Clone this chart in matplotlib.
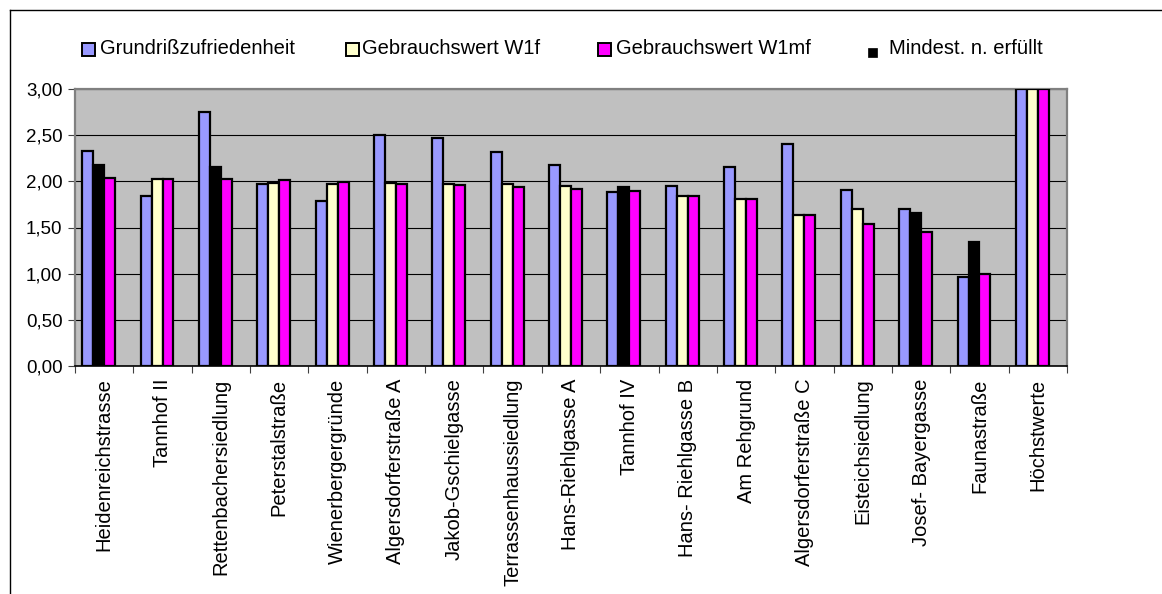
import matplotlib.pyplot as plt
from matplotlib.patches import Rectangle
from matplotlib.lines import Line2D
from matplotlib.ticker import FuncFormatter, FixedLocator
import numpy as np

plt.rcParams['font.family'] = ['Liberation Sans', 'DejaVu Sans']

CATEGORIES = ['Heidenreichstrasse', 'Tannhof II', 'Rettenbachersiedlung', 'Peterstalstraße',
              'Wienerbergergründe', 'Algersdorferstraße A', 'Jakob-Gschielgasse',
              'Terrassenhaussiedlung', 'Hans-Riehlgasse A', 'Tannhof IV', 'Hans- Riehlgasse B',
              'Am Rehgrund', 'Algersdorferstraße C', 'Eisteichsiedlung', 'Josef- Bayergasse',
              'Faunastraße', 'Höchstwerte']
GRUNDRISS = [2.33, 1.84, 2.75, 1.97, 1.79, 2.50, 2.47, 2.32, 2.18, 1.88, 1.95, 2.15, 2.40, 1.91, 1.70, 0.96, 3.00]
W1F = [2.18, 2.02, 2.15, 1.98, 1.97, 1.98, 1.97, 1.97, 1.95, 1.94, 1.84, 1.81, 1.63, 1.70, 1.66, 1.34, 3.00]
W1MF = [2.04, 2.02, 2.02, 2.01, 1.99, 1.97, 1.955, 1.94, 1.915, 1.90, 1.845, 1.81, 1.63, 1.54, 1.45, 1.00, 3.00]
# middle bar drawn black where the minimum is not met
NICHT_ERFUELLT = [True, False, True, False, False, False, False, False, False, True,
                  False, False, False, False, True, True, False]
LABELS = ['Grundrißzufriedenheit', 'Gebrauchswert W1f', 'Gebrauchswert W1mf', 'Mindest. n. erfüllt']

BLUE = '#9999FF'
YELLOW = '#FFFFCC'
MAGENTA = '#FF00FF'

fig = plt.figure(figsize=(11.62, 5.94), dpi=100)
ax = fig.add_axes([75 / 1162, 1 - 366 / 594, 992 / 1162, 277 / 594])
ax.set_facecolor('#C0C0C0')

x = np.arange(len(CATEGORIES))
w = 0.188
edge = dict(edgecolor='black', linewidth=1.6, zorder=3)
ax.bar(x - 1.5 * w, GRUNDRISS, w, color=BLUE, **edge)
mid_colors = ['black' if n else YELLOW for n in NICHT_ERFUELLT]
ax.bar(x - 0.5 * w, W1F, w, color=mid_colors, **edge)
ax.bar(x + 0.5 * w, W1MF, w, color=MAGENTA, **edge)

ax.set_xlim(-0.5, len(CATEGORIES) - 0.5)
ax.set_ylim(0, 3.0)
ax.set_yticks(np.arange(0, 3.01, 0.5))
ax.yaxis.set_major_formatter(FuncFormatter(lambda v, p: f'{v:.2f}'.replace('.', ',')))
ax.yaxis.grid(True, color='black', linewidth=0.8, zorder=1)
ax.set_axisbelow(True)

ax.set_xticks(x)
ax.set_xticklabels(CATEGORIES, rotation=90, va='top', ha='center')
ax.tick_params(axis='x', which='major', length=0, pad=9, labelsize=14.5)
ax.xaxis.set_minor_locator(FixedLocator(np.arange(-0.5, len(CATEGORIES), 1.0)))
ax.tick_params(axis='x', which='minor', length=5, width=0.8, color='#404040')
ax.tick_params(axis='y', length=5, width=0.8, color='#404040', labelsize=13.5, pad=4)

for side in ['top', 'right', 'left']:
    ax.spines[side].set_color('#808080')
    ax.spines[side].set_linewidth(1.6)
ax.spines['bottom'].set_color('black')
ax.spines['bottom'].set_linewidth(1.2)

# legend drawn by hand to match the original positions
leg_y = 1 - 49 / 594
fill = [BLUE, YELLOW, MAGENTA]
box_x = [82, 346, 598]
text_x = [100, 362, 616]
for i in range(3):
    fig.patches.append(Rectangle((box_x[i] / 1162, 1 - 56 / 594), 13 / 1162, 13 / 594,
                                 transform=fig.transFigure, facecolor=fill[i],
                                 edgecolor='black', linewidth=1.4))
    fig.text(text_x[i] / 1162, leg_y, LABELS[i], fontsize=14.5, va='center', ha='left')
fig.patches.append(Rectangle((868 / 1162, 1 - 57 / 594), 9 / 1162, 9 / 594,
                             transform=fig.transFigure, facecolor='black',
                             edgecolor='black', linewidth=0.5))
fig.text(889 / 1162, leg_y, LABELS[3], fontsize=14.5, va='center', ha='left')

# chart frame (cut off at right and bottom)
fig.lines.append(Line2D([10 / 1162, 10 / 1162], [0, 1 - 10 / 594], transform=fig.transFigure,
                        color='black', linewidth=1.0))
fig.lines.append(Line2D([10 / 1162, 1], [1 - 10 / 594, 1 - 10 / 594], transform=fig.transFigure,
                        color='black', linewidth=1.0))

fig.savefig('out.png', dpi=100)
